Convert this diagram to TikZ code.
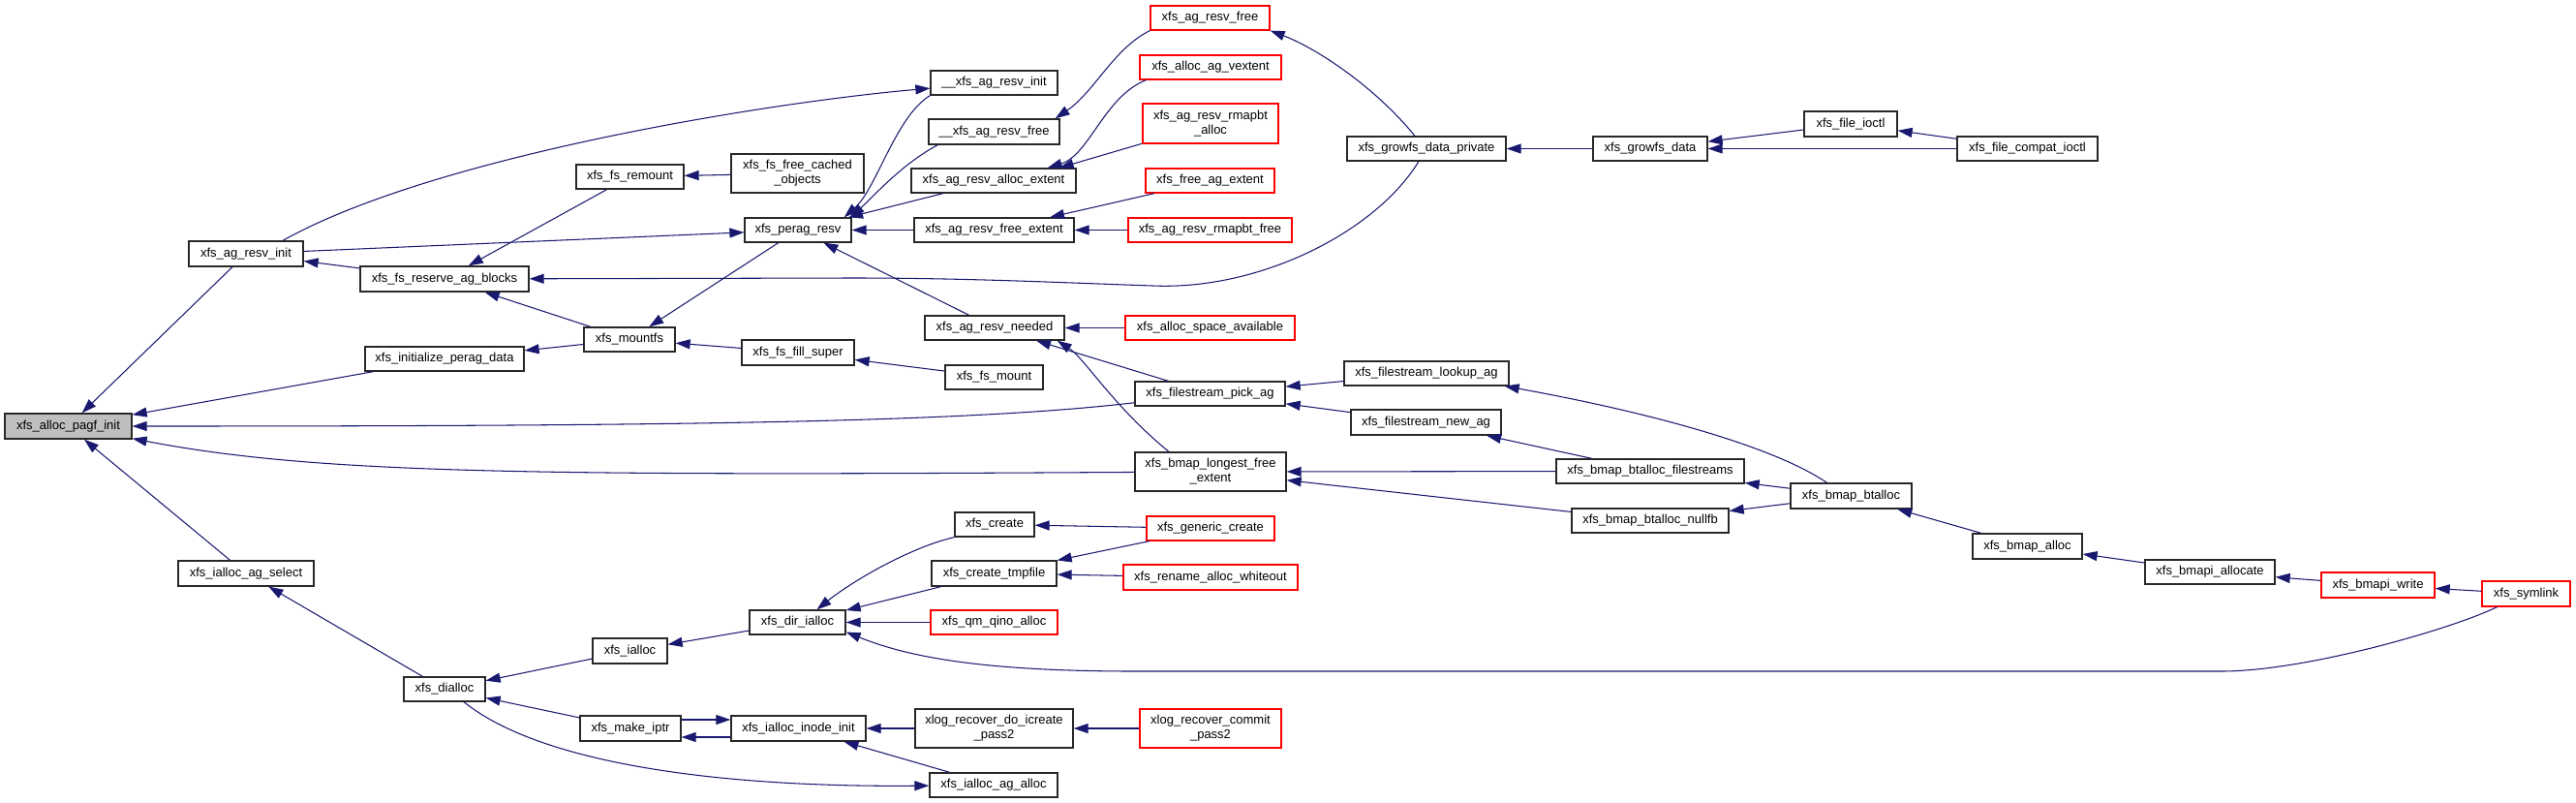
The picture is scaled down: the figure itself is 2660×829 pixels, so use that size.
\documentclass[tikz,border=0pt]{standalone}
\usepackage{fontspec}
\setmainfont{Liberation Sans}
\usetikzlibrary{arrows.meta}
\definecolor{edgec}{RGB}{25,25,112}
\definecolor{gfill}{RGB}{191,191,191}
\definecolor{bordc}{RGB}{40,40,40}
\newcommand\bx[7]{\node[#7, minimum width=#4pt, minimum height=#5pt] (#1) at (#2,#3) {#6};}
\begin{document}
\begin{tikzpicture}[x=1pt,y=-1pt,
  fbox/.style={draw=bordc, line width=1.3pt, fill=white, inner sep=0pt, align=center, font=\fontsize{13}{15}\selectfont},
  rbox/.style={fbox, draw=red},
  gbox/.style={fbox, fill=gfill},
  edge/.style={draw=edgec, line width=1.05pt, -{Triangle[length=15pt,width=10pt]}}]
\useasboundingbox (0,0) rectangle (2660,829);
\fill[white] (0,0) rectangle (2660,829);
% nodes
\bx{pagf}{70.5}{440}{131}{26}{xfs\_alloc\_pagf\_init}{gbox}
\bx{ari}{254}{262}{118}{26}{xfs\_ag\_resv\_init}{fbox}
\bx{ipd}{459}{370.5}{164}{25}{xfs\_initialize\_perag\_data}{fbox}
\bx{fsr}{459}{288}{174}{26}{xfs\_fs\_reserve\_ag\_blocks}{fbox}
\bx{ags}{254}{592}{140}{26}{xfs\_ialloc\_ag\_select}{fbox}
\bx{dia}{459}{711.5}{84}{25}{xfs\_dialloc}{fbox}
\bx{rem}{650.5}{182.5}{111}{25}{xfs\_fs\_remount}{fbox}
\bx{mnt}{650}{350.5}{94}{25}{xfs\_mountfs}{fbox}
\bx{ial}{650.5}{672}{77}{26}{xfs\_ialloc}{fbox}
\bx{mkp}{651}{752}{104}{26}{xfs\_make\_iptr}{fbox}
\bx{fco}{823.5}{179}{137}{40}{xfs\_fs\_free\_cached\\\_objects}{fbox}
\bx{prs}{824}{237.5}{110}{25}{xfs\_perag\_resv}{fbox}
\bx{ffs}{824}{364}{116}{26}{xfs\_fs\_fill\_super}{fbox}
\bx{dir}{823.5}{642.5}{99}{25}{xfs\_dir\_ialloc}{fbox}
\bx{iin}{824.5}{752}{139}{26}{xfs\_ialloc\_inode\_init}{fbox}
\bx{_ari}{1026.5}{85.5}{131}{25}{\_\_xfs\_ag\_resv\_init}{fbox}
\bx{_arf}{1026.5}{136}{135}{26}{\_\_xfs\_ag\_resv\_free}{fbox}
\bx{aae}{1026}{186.5}{170}{25}{xfs\_ag\_resv\_alloc\_extent}{fbox}
\bx{afe}{1026.5}{237.5}{165}{25}{xfs\_ag\_resv\_free\_extent}{fbox}
\bx{arn}{1027}{338.5}{144}{25}{xfs\_ag\_resv\_needed}{fbox}
\bx{fsm}{1026.5}{389.5}{101}{25}{xfs\_fs\_mount}{fbox}
\bx{cre}{1027}{541.5}{82}{25}{xfs\_create}{fbox}
\bx{ctm}{1026.5}{592}{129}{26}{xfs\_create\_tmpfile}{fbox}
\bx{qmq}{1026.5}{642.5}{131}{25}{xfs\_qm\_qino\_alloc}{rbox}
\bx{xdi}{1026.5}{752}{163}{40}{xlog\_recover\_do\_icreate\\\_pass2}{fbox}
\bx{iaa}{1026}{810.5}{132}{25}{xfs\_ialloc\_ag\_alloc}{fbox}
\bx{arf}{1249.5}{18.5}{123}{25}{xfs\_ag\_resv\_free}{rbox}
\bx{aav}{1250}{69.5}{146}{25}{xfs\_alloc\_ag\_vextent}{rbox}
\bx{arr}{1250}{127.5}{140}{41}{xfs\_ag\_resv\_rmapbt\\\_alloc}{rbox}
\bx{fae}{1249.5}{186.5}{133}{25}{xfs\_free\_ag\_extent}{rbox}
\bx{arb}{1249.5}{237.5}{169}{25}{xfs\_ag\_resv\_rmapbt\_free}{rbox}
\bx{asa}{1249.5}{338.5}{175}{25}{xfs\_alloc\_space\_available}{rbox}
\bx{fpa}{1249.5}{406.5}{155}{25}{xfs\_filestream\_pick\_ag}{fbox}
\bx{blf}{1250}{487}{156}{40}{xfs\_bmap\_longest\_free\\\_extent}{fbox}
\bx{gcr}{1250}{545.5}{132}{25}{xfs\_generic\_create}{rbox}
\bx{raw}{1250}{596}{180}{26}{xfs\_rename\_alloc\_whiteout}{rbox}
\bx{xcp}{1250}{752}{146}{40}{xlog\_recover\_commit\\\_pass2}{rbox}
\bx{gdp}{1473}{153.5}{164}{25}{xfs\_growfs\_data\_private}{fbox}
\bx{fla}{1473}{385.5}{170}{25}{xfs\_filestream\_lookup\_ag}{fbox}
\bx{fna}{1472.5}{436}{155}{26}{xfs\_filestream\_new\_ag}{fbox}
\bx{gd}{1704}{153.5}{118}{25}{xfs\_growfs\_data}{fbox}
\bx{bbf}{1704}{486.5}{194}{25}{xfs\_bmap\_btalloc\_filestreams}{fbox}
\bx{bbn}{1704}{537.5}{162}{25}{xfs\_bmap\_btalloc\_nullfb}{fbox}
\bx{fio}{1911}{128}{96}{26}{xfs\_file\_ioctl}{fbox}
\bx{bba}{1911.5}{512}{125}{26}{xfs\_bmap\_btalloc}{fbox}
\bx{fci}{2093.5}{153.5}{145}{25}{xfs\_file\_compat\_ioctl}{fbox}
\bx{bma}{2093.5}{564}{113}{26}{xfs\_bmap\_alloc}{fbox}
\bx{bmal}{2282}{590.5}{134}{25}{xfs\_bmapi\_allocate}{fbox}
\bx{bmw}{2455.5}{604}{117}{26}{xfs\_bmapi\_write}{rbox}
\bx{sym}{2608.5}{613}{91}{26}{xfs\_symlink}{rbox}
% edges
\draw[edge] (ari) -- (pagf);
\draw[edge] (ipd) -- (pagf);
\draw[edge] (fpa) .. controls (1000,436) and (700,440) .. (pagf);
\draw[edge] (blf) .. controls (560,491) and (330,490) .. (pagf);
\draw[edge] (ags) -- (pagf);
\draw[edge] (fsr) -- (ari);
\draw[edge] ([xshift=38pt]ari.north) .. controls (450,160) and (800,105) .. (_ari);
\draw[edge] (ari) -- (prs);
\draw[edge] (rem) -- (fsr);
\draw[edge] (mnt) -- (fsr);
\draw[edge] (gdp) .. controls (1420,240) and (1300,300) .. (1190,295) .. controls (1100,292) and (1000,287) .. (880,287) -- (fsr);
\draw[edge] (fco) -- (rem);
\draw[edge] (prs) -- (mnt);
\draw[edge] (mnt) -- (ipd);
\draw[edge] (ffs) -- (mnt);
\draw[edge] (fsm) -- (ffs);
\draw[edge] (_ari.south west) .. controls (925,120) and (905,195) .. ([xshift=-8pt]prs.north east);
\draw[edge] ([xshift=10pt]_arf.south west) .. controls (930,170) and (900,205) .. ([xshift=-2pt]prs.north east);
\draw[edge] (aae) -- (prs);
\draw[edge] (afe) -- (prs);
\draw[edge] (arn) -- (prs);
\draw[edge] (arf.south west) .. controls (1150,50) and (1130,95) .. ([xshift=-5pt]_arf.north east);
\draw[edge] ([xshift=7pt]aav.south west) .. controls (1140,100) and (1125,160) .. ([xshift=-30pt]aae.north east);
\draw[edge] (arr) -- ([xshift=-18pt]aae.north east);
\draw[edge] (fae) -- (afe);
\draw[edge] (arb) -- (afe);
\draw[edge] ([xshift=-12pt]gdp.north) .. controls (1420,90) and (1360,50) .. (arf.south east);
\draw[edge] (gd) -- (gdp);
\draw[edge] (fio) -- (gd);
\draw[edge] (fci) -- (gd);
\draw[edge] (fci) -- (fio);
\draw[edge] (asa) -- (arn);
\draw[edge] (fpa) -- (arn);
\draw[edge] ([xshift=-43pt]blf.north) .. controls (1150,420) and (1120,370) .. ([xshift=-8pt]arn.south east);
\draw[edge] (fla) -- (fpa);
\draw[edge] (fna) -- (fpa);
\draw[edge] ([xshift=-25pt]bba.north) .. controls (1830,460) and (1700,425) .. ([xshift=-5pt]fla.south east);
\draw[edge] (bbf) -- (fna);
\draw[edge] (bbf) -- (blf);
\draw[edge] (bbn) -- (blf);
\draw[edge] (bba) -- (bbf);
\draw[edge] (bba) -- (bbn);
\draw[edge] (bma) -- (bba);
\draw[edge] (bmal) -- (bma);
\draw[edge] (bmw) -- (bmal);
\draw[edge] (sym) -- (bmw);
\draw[edge] ([xshift=-30pt]sym.south) .. controls (2530,650) and (2380,693) .. (2294,693) -- (1170,693) .. controls (1000,693) and (930,675) .. ([yshift=-10pt]dir.east);
\draw[edge] (cre.south west) .. controls (940,565) and (880,600) .. ([xshift=20pt]dir.north);
\draw[edge] (ctm) -- (dir);
\draw[edge] (qmq) -- (dir);
\draw[edge] (gcr) -- (cre);
\draw[edge] (gcr) -- (ctm);
\draw[edge] (raw) -- (ctm);
\draw[edge] (xdi) -- (iin);
\draw[edge] (xcp) -- (xdi);
\draw[edge] (iaa) -- (iin);
\draw[edge] ([xshift=20pt]dia.south) .. controls (560,790) and (750,813) .. (iaa);
\draw[edge] (dia) -- (ags);
\draw[edge] (dir) -- (ial);
\draw[edge] (ial) -- (dia);
\draw[edge] (mkp) -- (dia);
\draw[edge] ([yshift=9pt]mkp.east) -- ([yshift=9pt]iin.west);
\draw[edge] ([yshift=-9pt]iin.west) -- ([yshift=-9pt]mkp.east);
\end{tikzpicture}
\end{document}
